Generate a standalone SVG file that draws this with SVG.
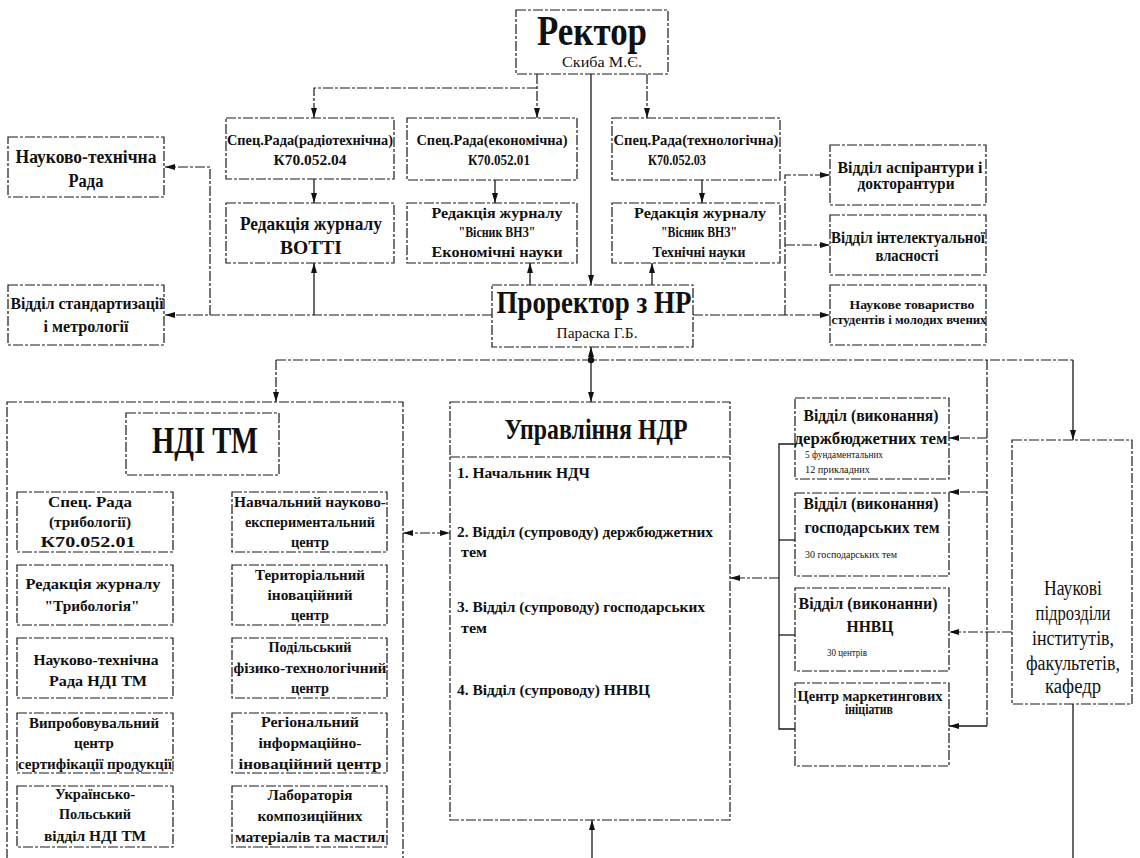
<svg xmlns="http://www.w3.org/2000/svg" width="1140" height="858" viewBox="0 0 1140 858">
<style>
.box{fill:#fff;stroke:#1a1a1a;stroke-width:1.2;stroke-dasharray:10 2 3 2}
.ln{fill:none;stroke:#1a1a1a;stroke-width:1.2;stroke-dasharray:10 2 3 2}
.sl{fill:none;stroke:#1a1a1a;stroke-width:1.3}
text{font-family:'Liberation Serif','DejaVu Serif',serif;fill:#111}
.b{font-weight:bold;text-anchor:middle}
.r{font-weight:normal;text-anchor:middle}
.bl{font-weight:bold;text-anchor:start}
.rl{font-weight:normal;text-anchor:start}
</style>
<defs>
<marker id="a" viewBox="0 0 10 6" refX="10" refY="3" markerWidth="10" markerHeight="6" markerUnits="userSpaceOnUse" orient="auto">
<path d="M0,0 L10,3 L0,6 Z" fill="#111"/>
</marker>
<marker id="as" viewBox="0 0 10 6" refX="10" refY="3" markerWidth="10" markerHeight="6" markerUnits="userSpaceOnUse" orient="auto-start-reverse">
<path d="M0,0 L10,3 L0,6 Z" fill="#111"/>
</marker>
</defs>
<rect width="1140" height="858" fill="#fff"/>

<g id="connectors">
<path class="ln" d="M537,74 V118" marker-end="url(#a)"/>
<path class="ln" d="M537,88 H314 V118" marker-end="url(#a)"/>
<path class="sl" d="M591,74 V285" marker-end="url(#a)"/>
<path class="ln" d="M647,74 V118" marker-end="url(#a)"/>
<path class="sl" d="M314,179 V203" marker-end="url(#a)"/>
<path class="sl" d="M495,180 V203" marker-end="url(#a)"/>
<path class="sl" d="M702,180 V203" marker-end="url(#a)"/>
<path class="sl" d="M314,315 V263" marker-end="url(#a)"/>
<path class="sl" d="M530,285 V263" marker-end="url(#a)"/>
<path class="sl" d="M652,285 V263" marker-end="url(#a)"/>
<path class="ln" d="M492,315 H165" marker-end="url(#a)"/>
<path class="ln" d="M210,315 V167 H165" marker-end="url(#a)"/>
<path class="ln" d="M693,315 H830" marker-end="url(#a)"/>
<path class="ln" d="M785,315 V175 H830" marker-end="url(#a)"/>
<path class="ln" d="M785,245 H830" marker-end="url(#a)"/>
<path class="sl" d="M591,360 V347" marker-end="url(#a)"/>
<path class="sl" d="M591,360 V402" marker-end="url(#a)"/>
<circle cx="591" cy="360" r="3.2" fill="#111"/>
<path class="ln" d="M276,360 H1073"/>
<path class="ln" d="M276,360 V402" marker-end="url(#a)"/>
<path class="sl" d="M1073,360 V440" marker-end="url(#a)"/>
<path class="ln" d="M987,360 V726"/>
<path class="ln" d="M987,438 H949" marker-end="url(#a)"/>
<path class="ln" d="M987,492 H949" marker-end="url(#a)"/>
<path class="ln" d="M1012,632 H949" marker-end="url(#a)"/>
<path class="sl" d="M987,726 H949" marker-end="url(#a)"/>
<path class="sl" d="M795,444 H779 V729 H795"/>
<path class="sl" d="M779,540 H795"/>
<path class="sl" d="M779,635 H795"/>
<path class="ln" d="M779,578 H730" marker-end="url(#a)"/>
<path class="ln" d="M403,533 H450" marker-start="url(#as)" marker-end="url(#a)"/>
<path class="sl" d="M592,858 V820" marker-end="url(#a)"/>
<path class="sl" d="M1073,704 V858"/>
<path class="sl" d="M202,475 V814"/>
<path class="ln" d="M202,522 H173" marker-end="url(#a)"/><path class="ln" d="M202,522 H232" marker-end="url(#a)"/><circle cx="202" cy="522" r="3" fill="#111"/>
<path class="ln" d="M202,595 H173" marker-end="url(#a)"/><path class="ln" d="M202,595 H232" marker-end="url(#a)"/><circle cx="202" cy="595" r="3" fill="#111"/>
<path class="ln" d="M202,668 H173" marker-end="url(#a)"/><path class="ln" d="M202,668 H232" marker-end="url(#a)"/><circle cx="202" cy="668" r="3" fill="#111"/>
<path class="ln" d="M202,743 H173" marker-end="url(#a)"/><path class="ln" d="M202,743 H232" marker-end="url(#a)"/><circle cx="202" cy="743" r="3" fill="#111"/>
<path class="ln" d="M202,814 H173" marker-end="url(#a)"/><path class="ln" d="M202,814 H232" marker-end="url(#a)"/><circle cx="202" cy="814" r="3" fill="#111"/>
</g>

<g id="rector">
<rect class="box" x="516" y="10" width="152" height="64"/>
<text class="b" x="592" y="45" font-size="42" textLength="110" lengthAdjust="spacingAndGlyphs">Ректор</text>
<text class="r" x="602" y="67" font-size="15" textLength="80" lengthAdjust="spacingAndGlyphs">Скиба М.Є.</text>
</g>

<g id="spec-radio">
<rect class="box" x="226" y="118" width="168" height="61"/>
<text class="b" x="310" y="145" font-size="15" textLength="166" lengthAdjust="spacingAndGlyphs">Спец.Рада(радіотехнічна)</text>
<text class="b" x="310" y="165" font-size="15" textLength="73" lengthAdjust="spacingAndGlyphs">К70.052.04</text>
</g>
<g id="spec-econ">
<rect class="box" x="407" y="118" width="170" height="62"/>
<text class="b" x="492" y="145" font-size="15" textLength="151" lengthAdjust="spacingAndGlyphs">Спец.Рада(економічна)</text>
<text class="b" x="499" y="165" font-size="15" textLength="62" lengthAdjust="spacingAndGlyphs">К70.052.01</text>
</g>
<g id="spec-tech">
<rect class="box" x="612" y="118" width="168" height="62"/>
<text class="b" x="696" y="145" font-size="15" textLength="165" lengthAdjust="spacingAndGlyphs">Спец.Рада(технологічна)</text>
<text class="b" x="677" y="165" font-size="15" textLength="58" lengthAdjust="spacingAndGlyphs">К70.052.03</text>
</g>

<g id="red-votti">
<rect class="box" x="226" y="203" width="168" height="60"/>
<text class="b" x="311" y="230" font-size="19" textLength="142" lengthAdjust="spacingAndGlyphs">Редакція журналу</text>
<text class="b" x="311" y="254" font-size="19" textLength="62" lengthAdjust="spacingAndGlyphs">ВОТТІ</text>
</g>
<g id="red-econ">
<rect class="box" x="407" y="203" width="170" height="60"/>
<text class="b" x="497" y="218" font-size="14" textLength="131" lengthAdjust="spacingAndGlyphs">Редакція журналу</text>
<text class="b" x="497" y="237" font-size="14" textLength="77" lengthAdjust="spacingAndGlyphs">"Вісник ВНЗ"</text>
<text class="b" x="497" y="257" font-size="14" textLength="131" lengthAdjust="spacingAndGlyphs">Економічні науки</text>
</g>
<g id="red-tech">
<rect class="box" x="612" y="203" width="168" height="60"/>
<text class="b" x="700" y="218" font-size="14" textLength="132" lengthAdjust="spacingAndGlyphs">Редакція журналу</text>
<text class="b" x="699" y="237" font-size="14" textLength="76" lengthAdjust="spacingAndGlyphs">"Вісник ВНЗ"</text>
<text class="b" x="699" y="257" font-size="14" textLength="93" lengthAdjust="spacingAndGlyphs">Технічні науки</text>
</g>

<g id="nt-rada">
<rect class="box" x="8" y="137" width="156" height="60"/>
<text class="b" x="86" y="163" font-size="18" textLength="141" lengthAdjust="spacingAndGlyphs">Науково-технічна</text>
<text class="b" x="86" y="187" font-size="18" textLength="35" lengthAdjust="spacingAndGlyphs">Рада</text>
</g>
<g id="standart">
<rect class="box" x="8" y="285" width="156" height="60"/>
<text class="b" x="87" y="309" font-size="17" textLength="153" lengthAdjust="spacingAndGlyphs">Відділ стандартизації</text>
<text class="b" x="86" y="332" font-size="17" textLength="85" lengthAdjust="spacingAndGlyphs">і метрології</text>
</g>

<g id="prorector">
<rect class="box" x="492" y="285" width="201" height="62"/>
<text class="b" x="594" y="313" font-size="32" textLength="195" lengthAdjust="spacingAndGlyphs">Проректор з НР</text>
<text class="r" x="597" y="338" font-size="14" textLength="81" lengthAdjust="spacingAndGlyphs">Параска Г.Б.</text>
</g>

<g id="aspirant">
<rect class="box" x="830" y="145" width="156" height="60"/>
<text class="b" x="910" y="173" font-size="16" textLength="145" lengthAdjust="spacingAndGlyphs">Відділ аспірантури і</text>
<text class="b" x="906" y="189" font-size="16" textLength="97" lengthAdjust="spacingAndGlyphs">докторантури</text>
</g>
<g id="intel">
<rect class="box" x="830" y="215" width="156" height="60"/>
<text class="b" x="908" y="243" font-size="16" textLength="154" lengthAdjust="spacingAndGlyphs">Відділ інтелектуальної</text>
<text class="b" x="907" y="261" font-size="16" textLength="63" lengthAdjust="spacingAndGlyphs">власності</text>
</g>
<g id="students">
<rect class="box" x="830" y="285" width="156" height="60"/>
<text class="b" x="912" y="309" font-size="12" textLength="125" lengthAdjust="spacingAndGlyphs">Наукове товариство</text>
<text class="b" x="909" y="324" font-size="12" textLength="155" lengthAdjust="spacingAndGlyphs">студентів і молодих вчених</text>
</g>

<g id="ndi-tm">
<rect class="box" x="7" y="402" width="396" height="470"/>
<rect class="box" x="126" y="413" width="153" height="62"/>
<text class="b" x="205" y="453" font-size="38" textLength="106" lengthAdjust="spacingAndGlyphs">НДІ ТМ</text>
</g>
<g id="ndi-spec">
<rect class="box" x="17" y="492" width="156" height="60"/>
<text class="b" x="90" y="507" font-size="15" textLength="84" lengthAdjust="spacingAndGlyphs">Спец. Рада</text>
<text class="b" x="90" y="527" font-size="15" textLength="82" lengthAdjust="spacingAndGlyphs">(трибології)</text>
<text class="b" x="88" y="547" font-size="15" textLength="95" lengthAdjust="spacingAndGlyphs">К70.052.01</text>
</g>
<g id="ndi-red">
<rect class="box" x="17" y="565" width="156" height="60"/>
<text class="b" x="93" y="589" font-size="15" textLength="135" lengthAdjust="spacingAndGlyphs">Редакція журналу</text>
<text class="b" x="92" y="611" font-size="15" textLength="95" lengthAdjust="spacingAndGlyphs">"Трибологія"</text>
</g>
<g id="ndi-ntr">
<rect class="box" x="17" y="638" width="156" height="60"/>
<text class="b" x="96" y="665" font-size="15" textLength="125" lengthAdjust="spacingAndGlyphs">Науково-технічна</text>
<text class="b" x="98" y="686" font-size="15" textLength="98" lengthAdjust="spacingAndGlyphs">Рада НДІ ТМ</text>
</g>
<g id="ndi-vyp">
<rect class="box" x="17" y="713" width="156" height="60"/>
<text class="b" x="94" y="728" font-size="15" textLength="130" lengthAdjust="spacingAndGlyphs">Випробовувальний</text>
<text class="b" x="94" y="748" font-size="15" textLength="40" lengthAdjust="spacingAndGlyphs">центр</text>
<text class="b" x="95" y="769" font-size="15" textLength="154" lengthAdjust="spacingAndGlyphs">сертифікації продукції</text>
</g>
<g id="ndi-ukr">
<rect class="box" x="17" y="786" width="156" height="61"/>
<text class="b" x="95" y="799" font-size="15" textLength="80" lengthAdjust="spacingAndGlyphs">Українсько-</text>
<text class="b" x="95" y="819" font-size="15" textLength="72" lengthAdjust="spacingAndGlyphs">Польський</text>
<text class="b" x="95" y="841" font-size="15" textLength="102" lengthAdjust="spacingAndGlyphs">відділ НДІ ТМ</text>
</g>
<g id="ndi-navch">
<rect class="box" x="232" y="492" width="155" height="60"/>
<text class="b" x="310" y="507" font-size="15" textLength="152" lengthAdjust="spacingAndGlyphs">Навчальний науково-</text>
<text class="b" x="310" y="527" font-size="15" textLength="130" lengthAdjust="spacingAndGlyphs">експериментальний</text>
<text class="b" x="310" y="547" font-size="15" textLength="38" lengthAdjust="spacingAndGlyphs">центр</text>
</g>
<g id="ndi-ter">
<rect class="box" x="232" y="565" width="155" height="60"/>
<text class="b" x="310" y="580" font-size="15" textLength="110" lengthAdjust="spacingAndGlyphs">Територіальний</text>
<text class="b" x="310" y="600" font-size="15" textLength="85" lengthAdjust="spacingAndGlyphs">іноваційний</text>
<text class="b" x="310" y="620" font-size="15" textLength="38" lengthAdjust="spacingAndGlyphs">центр</text>
</g>
<g id="ndi-pod">
<rect class="box" x="232" y="638" width="155" height="60"/>
<text class="b" x="310" y="652" font-size="15" textLength="83" lengthAdjust="spacingAndGlyphs">Подільський</text>
<text class="b" x="310" y="673" font-size="15" textLength="153" lengthAdjust="spacingAndGlyphs">фізико-технологічний</text>
<text class="b" x="310" y="693" font-size="15" textLength="38" lengthAdjust="spacingAndGlyphs">центр</text>
</g>
<g id="ndi-reg">
<rect class="box" x="232" y="713" width="155" height="60"/>
<text class="b" x="310" y="727" font-size="15" textLength="98" lengthAdjust="spacingAndGlyphs">Регіональний</text>
<text class="b" x="310" y="748" font-size="15" textLength="103" lengthAdjust="spacingAndGlyphs">інформаційно-</text>
<text class="b" x="310" y="769" font-size="15" textLength="143" lengthAdjust="spacingAndGlyphs">іноваційний центр</text>
</g>
<g id="ndi-lab">
<rect class="box" x="232" y="786" width="155" height="61"/>
<text class="b" x="310" y="800" font-size="15" textLength="85" lengthAdjust="spacingAndGlyphs">Лабораторія</text>
<text class="b" x="310" y="821" font-size="15" textLength="105" lengthAdjust="spacingAndGlyphs">композиційних</text>
<text class="b" x="310" y="842" font-size="15" textLength="150" lengthAdjust="spacingAndGlyphs">матеріалів та мастил</text>
</g>

<g id="upravlinnia">
<rect class="box" x="450" y="402" width="280" height="418"/>
<path class="ln" d="M450,457 H730"/>
<text class="b" x="596" y="439" font-size="30" textLength="183" lengthAdjust="spacingAndGlyphs">Управління НДР</text>
<text class="bl" x="457" y="478" font-size="15" textLength="133" lengthAdjust="spacingAndGlyphs">1. Начальник НДЧ</text>
<text class="bl" x="457" y="537" font-size="15" textLength="256" lengthAdjust="spacingAndGlyphs">2. Відділ (супроводу) держбюджетних</text>
<text class="bl" x="461" y="557" font-size="15" textLength="26" lengthAdjust="spacingAndGlyphs">тем</text>
<text class="bl" x="457" y="612" font-size="15" textLength="248" lengthAdjust="spacingAndGlyphs">3. Відділ (супроводу) господарських</text>
<text class="bl" x="461" y="633" font-size="15" textLength="26" lengthAdjust="spacingAndGlyphs">тем</text>
<text class="bl" x="457" y="695" font-size="15" textLength="193" lengthAdjust="spacingAndGlyphs">4. Відділ (супроводу) ННВЦ</text>
</g>

<g id="vyk-derzh">
<rect class="box" x="795" y="398" width="154" height="81"/>
<text class="b" x="871" y="421" font-size="17" textLength="135" lengthAdjust="spacingAndGlyphs">Відділ (виконання)</text>
<text class="b" x="871" y="444" font-size="17" textLength="153" lengthAdjust="spacingAndGlyphs">держбюджетних тем</text>
<text class="rl" x="805" y="458" font-size="10" textLength="78" lengthAdjust="spacingAndGlyphs">5 фундаментальних</text>
<text class="rl" x="805" y="473" font-size="10" textLength="65" lengthAdjust="spacingAndGlyphs">12 прикладних</text>
</g>
<g id="vyk-gosp">
<rect class="box" x="795" y="493" width="154" height="83"/>
<text class="b" x="871" y="509" font-size="17" textLength="135" lengthAdjust="spacingAndGlyphs">Відділ (виконання)</text>
<text class="b" x="872" y="533" font-size="17" textLength="135" lengthAdjust="spacingAndGlyphs">господарських тем</text>
<text class="rl" x="805" y="558" font-size="10" textLength="92" lengthAdjust="spacingAndGlyphs">30 господарських тем</text>
</g>
<g id="vyk-nnvc">
<rect class="box" x="795" y="588" width="154" height="83"/>
<text class="b" x="868" y="609" font-size="17" textLength="139" lengthAdjust="spacingAndGlyphs">Відділ (виконанни)</text>
<text class="b" x="870" y="632" font-size="17" textLength="47" lengthAdjust="spacingAndGlyphs">ННВЦ</text>
<text class="r" x="847" y="656" font-size="10" textLength="40" lengthAdjust="spacingAndGlyphs">30 центрів</text>
</g>
<g id="marketing">
<rect class="box" x="795" y="683" width="154" height="83"/>
<text class="b" x="870" y="701" font-size="14" textLength="145" lengthAdjust="spacingAndGlyphs">Центр маркетингових</text>
<text class="b" x="869" y="714" font-size="14" textLength="48" lengthAdjust="spacingAndGlyphs">ініціатив</text>
</g>

<g id="naukovi">
<rect class="box" x="1012" y="440" width="120" height="264"/>
<text class="r" x="1073" y="595" font-size="20" textLength="58" lengthAdjust="spacingAndGlyphs">Наукові</text>
<text class="r" x="1073" y="620" font-size="20" textLength="75" lengthAdjust="spacingAndGlyphs">підрозділи</text>
<text class="r" x="1073" y="645" font-size="20" textLength="82" lengthAdjust="spacingAndGlyphs">інститутів,</text>
<text class="r" x="1073" y="670" font-size="20" textLength="94" lengthAdjust="spacingAndGlyphs">факультетів,</text>
<text class="r" x="1073" y="693" font-size="20" textLength="56" lengthAdjust="spacingAndGlyphs">кафедр</text>
</g>
</svg>
